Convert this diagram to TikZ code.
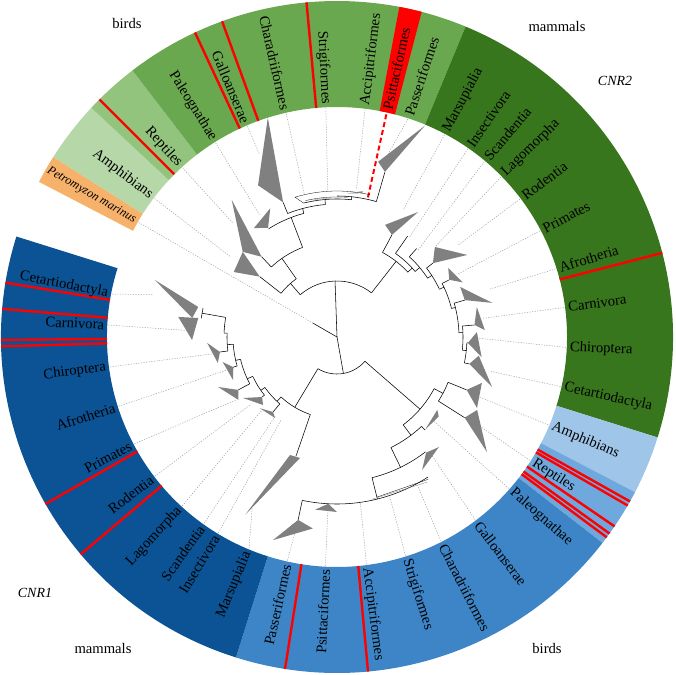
\documentclass[tikz,border=0pt]{standalone}
\usepackage{fontspec}
\setmainfont{Liberation Serif}
\usetikzlibrary{arrows.meta,positioning,calc}

\definecolor{mamgreen}{HTML}{38761D}
\definecolor{birdgreen}{HTML}{6AA84F}
\definecolor{reptgreen}{HTML}{93C47D}
\definecolor{amphgreen}{HTML}{B6D7A8}
\definecolor{lampgold}{HTML}{F6B26B}
\definecolor{mamblue}{HTML}{0B5394}
\definecolor{birdblue}{HTML}{3D85C6}
\definecolor{reptblue}{HTML}{6FA8DC}
\definecolor{amphblue}{HTML}{9FC5E8}
\definecolor{cladegray}{HTML}{808080}

\tikzset{
  branch/.style={draw=black, line width=0.55bp},
  hairline/.style={draw=black, line width=0.3bp},
  clade/.style={fill=cladegray},
  leader/.style={draw=gray!75, line width=0.5bp, dash pattern=on 1.2bp off 1.4bp},
  redline/.style={draw=red, line width=2.4bp},
  taxon/.style={font=\fontsize{14.7}{16}\selectfont, inner sep=0pt, text=black},
  group/.style={font=\fontsize{14.7}{16}\selectfont, inner sep=0pt},
}

% ring piece: colour, start angle, end angle
\newcommand\ringpart[3]{\fill[#1] (#2:230) arc[start angle=#2, end angle=#3, radius=230] -- (#3:336) arc[start angle=#3, end angle=#2, radius=336] -- cycle;}
% tree pieces: arc at radius from a to b; radial line at angle from r1 to r2
\newcommand\tarc[3]{\draw[branch] (#2:#1) arc[start angle=#2, end angle=#3, radius=#1];}
\newcommand\tbranch[3]{\draw[branch] (#1:#2) -- (#1:#3);}
\newcommand\collapsed[6]{\fill[clade] (#1:#2) -- (#3:#4) -- (#5:#6) -- cycle;}

\begin{document}
\begin{tikzpicture}[x=1bp, y=1bp]
    \useasboundingbox (-337,-338) rectangle (338,337);

    % CNR2 ring
    \ringpart{lampgold}{147.6}{152.5}
    \ringpart{amphgreen}{137}{147.6}
    \ringpart{reptgreen}{127.5}{137}
    \ringpart{birdgreen}{67.5}{127.5}
    \ringpart{red}{75.4}{79.3}
    \ringpart{mamgreen}{-17.4}{67.5}

    % CNR1 ring
    \ringpart{amphblue}{-27.5}{-17.4}
    \ringpart{reptblue}{-37.8}{-27.5}
    \ringpart{birdblue}{-107.5}{-37.8}
    \ringpart{mamblue}{-197.4}{-107.5}

    % red separators
    \foreach \a in {135,115,110,95.2,14.5,-29.3,-30.1,-34.3,-35.8,-36.6,-84.7,-98.9,-139.7,-150.2,-178.4,-179.5,-184.8,-189.3}
      \draw[redline] (\a:230) -- (\a:336);

    % dotted leaders: label angle / tip angle / tip radius
    \foreach \la/\ta/\tr in {150/150/28, 142.8/143/133, 132.4/132.4/154, 122/122.4/145, 113/113/198,
        102.8/102.9/147, 92.8/93.6/147, 83/82.5/150, 72/75/182,
        62/62.5/143, 55.2/54/123, 50/47/119, 44.3/42.6/133, 37/37.2/152, 27.6/27.5/136,
        17.3/17.4/160, 7.4/7.3/146, -2.6/-0.4/140, -12.5/-12.6/158,
        -22.6/-22.8/155, -32.6/-32/170, -41.4/-41/128, -52.9/-51.3/152, -63/-61.5/169,
        -72.6/-71.7/168, -82.6/-82/168, -92.9/-93/172, -102.5/-102/192,
        -112.6/-116.5/190, -121.2/-124/100, -125.5/-128/100, -132.5/-135.8/104,
        -142.6/-142/110, -152.2/-148/118, -162.4/-163.3/115, -172.5/-172.3/126,
        -183/-182.5/152, -190.8/-193/189}
      \draw[leader] (\la:229) -- (\ta:\tr);

    % Psittaciformes in CNR2
    \draw[draw=red, line width=2bp, dash pattern=on 5bp off 3bp] (77.5:143) -- (77.5:230);

    % root
    \tbranch{150}{0}{28}
    \tbranch{92}{0}{56}
    \tbranch{-80}{0}{37}
    \tarc{56}{131}{52}
    \tarc{37}{-121}{-41}

    % CNR2 birds, reptiles, amphibians
    \tbranch{131}{56}{71}
    \tarc{71}{142}{125}
    \tbranch{142}{71}{98}
    \tbranch{125}{71}{96}
    \tarc{96}{133.2}{111}
    \tbranch{133.2}{96}{110}
    \tbranch{111}{96}{128}
    \tarc{128}{122.3}{105}
    \tbranch{105}{128}{133}
    \tarc{133}{111.8}{95}
    \tbranch{111.8}{133}{145}
    \tbranch{95}{133}{138}
    \tarc{138}{104}{84}
    \tbranch{84}{138}{141}
    \tarc{141}{90}{73.8}
    \tbranch{73.8}{141}{172}
    \draw[hairline] (104:138) -- (106.7:146) arc[start angle=106.7, end angle=77, radius=146];
    \draw[hairline] (103:140) arc[start angle=103, end angle=86, radius=143];
    \draw[hairline, gray] (100:139) arc[start angle=100, end angle=88, radius=140];
    \fill[clade] (86:144) -- (80:148) -- (80:146) -- cycle;

    % CNR2 mammals
    \tbranch{52}{56}{96}
    \tarc{96}{61.7}{42.5}
    \tbranch{61.7}{96}{116}
    \tbranch{42.5}{96}{102}
    \tarc{102}{55}{40}
    \tbranch{55}{102}{123}
    \tbranch{40}{102}{108}
    \tarc{108}{48}{33}
    \tbranch{48}{108}{119}
    \tbranch{33}{108}{113}
    \tarc{113}{37.6}{25}
    \tbranch{37.6}{113}{121}
    \tbranch{25}{113}{118}
    \tarc{118}{27}{14}
    \tbranch{27}{118}{126}
    \tbranch{14}{118}{122}
    \tarc{122}{16.1}{2}
    \tbranch{16.1}{122}{133}
    \tbranch{2}{122}{126}
    \tarc{126}{5}{-6}
    \tbranch{5}{126}{138}
    \tbranch{-6}{126}{130}
    \tarc{130}{-2.6}{-11.5}
    \tbranch{-2.6}{130}{131}
    \tbranch{-11.5}{130}{135}

    % CNR1 birds, reptiles, amphibians
    \tbranch{-41}{37}{110}
    \tarc{110}{-28}{-53}
    \tbranch{-28}{110}{120}
    \tarc{120}{-22.2}{-32.3}
    \tbranch{-22.2}{120}{140}
    \tbranch{-32.3}{120}{151}
    \tbranch{-53}{110}{123}
    \tarc{123}{-46.6}{-64}
    \tbranch{-46.6}{123}{128}
    \tbranch{-64}{123}{145}
    \tarc{145}{-52.4}{-76}
    \tbranch{-76}{145}{167}
    \tarc{167}{-57}{-102}
    \tbranch{-102}{167}{187}
    \draw[hairline] (-76:165) -- (-57.4:169);
    \draw[hairline, gray] (-78:166) -- (-58:171);
    \fill[clade] (-93:167) -- (-97.2:174) -- (-90:175) -- cycle;

    % CNR1 mammals
    \tbranch{-121}{37}{82}
    \tarc{82}{-109}{-133}
    \tbranch{-109}{82}{126}
    \tbranch{-133}{82}{88}
    \tarc{88}{-130.5}{-145}
    \tbranch{-130.5}{88}{98.6}
    \tbranch{-145}{88}{93}
    \tarc{93}{-141.3}{-155}
    \tbranch{-141.3}{93}{96}
    \tbranch{-155}{93}{99}
    \tarc{99}{-151.8}{-167}
    \tbranch{-151.8}{99}{112}
    \tbranch{-167}{99}{104}
    \tarc{104}{-163.8}{-176}
    \tbranch{-163.8}{104}{111}
    \tbranch{-176}{104}{110}
    \tarc{110}{-172.7}{-182}
    \tbranch{-172.7}{110}{118}
    \tbranch{-182}{110}{113}
    \tarc{113}{-182}{-190}
    \tbranch{-190}{113}{137}
    \tarc{137}{-187.8}{-192.2}

    % collapsed clades, CNR2
    \collapsed{142}{98}{137.9}{127}{147.8}{122}
    \collapsed{133.2}{110}{127.5}{173}{137.9}{127}
    \collapsed{122.3}{129}{117.4}{145}{127.3}{137}
    \collapsed{111.8}{145}{107.5}{230}{117.5}{171}
    \collapsed{73.8}{172}{67.4}{229}{76.8}{180}
    \collapsed{61.7}{116}{66.8}{122}{57}{149}
    \collapsed{37.6}{121}{42.6}{133}{32.2}{154}
    \collapsed{27}{126}{31.9}{131}{23.5}{137}
    \collapsed{16.1}{133}{22.1}{133}{12.4}{159}
    \collapsed{5}{138}{12.1}{143}{2.7}{148}
    \collapsed{-2.6}{131}{2}{140}{-7.9}{146}
    \collapsed{-11.5}{135}{-7.5}{143}{-17.9}{163}

    % collapsed clades, CNR1
    \collapsed{-22.2}{140}{-17.6}{152}{-26.9}{157}
    \collapsed{-32.3}{151}{-27.5}{158}{-37.5}{189}
    \collapsed{-46.6}{128}{-36}{124}{-38}{129}
    \collapsed{-52.4}{146}{-47.2}{150}{-57.4}{158}
    \collapsed{-102}{187}{-97.2}{193}{-107.5}{213}
    \collapsed{-111.7}{127}{-107}{126.5}{-117.3}{200}
    \collapsed{-130.5}{98.6}{-137.3}{105}{-127.4}{102}
    \collapsed{-141.3}{96}{-147}{112}{-137.4}{100.5}
    \collapsed{-151.8}{112}{-157.2}{129}{-147.5}{117}
    \collapsed{-163.8}{108}{-167.6}{117}{-157.5}{112.5}
    \collapsed{-172.7}{118}{-177.4}{130}{-167.7}{122}
    \collapsed{-187.8}{140}{-187.2}{160}{-178.8}{145}
    \collapsed{-192.2}{142}{-197.4}{191}{-187.5}{146}

    % taxon labels reading outward
    \foreach \a/\t [count=\i] in {83/Accipitriformes, 77.5/Psittaciformes, 72/Passeriformes,
        62/Marsupialia, 55.2/Insectivora, 50/Scandentia, 44.3/Lagomorpha, 37/Rodentia,
        27.6/Primates, 17.3/Afrotheria, 7.4/Carnivora, -2.6/Chiroptera, -12.5/Cetartiodactyla,
        -22.6/Amphibians, -32.6/Reptiles, -41.4/Paleognathae, -52.9/Galloanserae,
        -63/Charadriiformes, -72.6/Strigiformes, -82.6/Accipitriformes}
      \node[taxon, anchor=west, rotate=\a] (out\i) at (\a:233) {\t};

    % taxon labels reading inward
    \foreach \a/\t [count=\i] in {142.8/Amphibians, 132.4/Reptiles, 122/Paleognathae,
        113/Galloanserae, 102.8/Charadriiformes, 92.8/Strigiformes,
        -92.9/Psittaciformes, -102.5/Passeriformes, -112.6/Marsupialia, -121.2/Insectivora,
        -125.5/Scandentia, -132.5/Lagomorpha, -142.6/Rodentia, -152.2/Primates,
        -162.4/Afrotheria, -172.5/Chiroptera, -183/Carnivora, -190.8/Cetartiodactyla}
    {
      \pgfmathsetmacro\rot{\a+180}
      \node[taxon, anchor=east, rotate=\rot] (in\i) at (\a:233) {\t};
    }
    \node[anchor=east, rotate=330, inner sep=0pt, font=\fontsize{12.2}{14}\selectfont\itshape] (petro) at (150:233) {Petromyzon marinus};

    % group labels
    \node[group] (birdsTop) at (-210,314) {birds};
    \node[group] (mammalsTop) at (220,311) {mammals};
    \node[group, font=\fontsize{14}{16}\selectfont\itshape] (cnrTwo) at (278,256) {CNR2};
    \node[group, font=\fontsize{14}{16}\selectfont\itshape] (cnrOne) at (-302,-256) {CNR1};
    \node[group] (mammalsBot) at (-234,-311) {mammals};
    \node[group] (birdsBot) at (210,-311) {birds};
\end{tikzpicture}
\end{document}
